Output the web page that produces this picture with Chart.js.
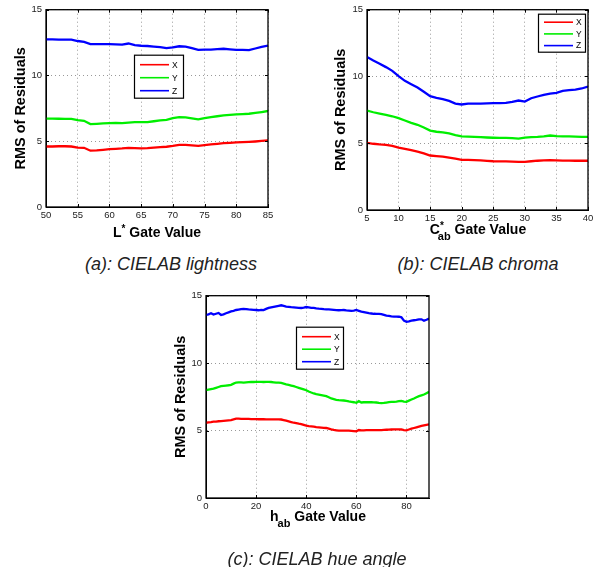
<!DOCTYPE html>
<html lang="en">
<head>
<meta charset="UTF-8">
<title>RMS of Residuals vs CIELAB gate value</title>
<script src="https://cdn.jsdelivr.net/npm/chart.js"></script>
<style>
    body {
        margin: 0;
        background: #fff;
        font-family: "Liberation Sans", Arial, Helvetica, sans-serif;
    }
    #page {
        position: relative;
        width: 598px;
        height: 567px;
        overflow: hidden;
    }
    canvas {
        position: absolute;
    }
    .xtitle {
        position: absolute;
        width: 200px;
        font-size: 14px;
        line-height: 16px;
        font-weight: bold;
        color: #000;
        text-align: center;
        white-space: nowrap;
    }
    .xtitle .up {
        position: relative;
        top: -5px;
        font-size: 10px;
    }
    .xtitle .down {
        position: relative;
        top: 6px;
        font-size: 11px;
    }
    .caption {
        position: absolute;
        width: 240px;
        font-size: 18px;
        line-height: 20px;
        font-style: italic;
        color: #222;
        text-align: center;
        white-space: nowrap;
    }
</style>
</head>
<body>
<div id="page">
    <canvas id="lightnessChart" width="290" height="230" style="left:0;top:0"></canvas>
    <canvas id="chromaChart" width="278" height="233" style="left:320px;top:0"></canvas>
    <canvas id="hueChart" width="290" height="235" style="left:160px;top:286px"></canvas>

    <div class="xtitle" style="left:57px;top:224px">L<span class="up">*</span> Gate Value</div>
    <div class="xtitle" style="left:378px;top:221px">C<span class="up">*</span><span class="down" style="margin-left:-6px">ab</span> Gate Value</div>
    <div class="xtitle" style="left:218px;top:508px">h<span class="down" style="margin-left:-1px">ab</span> Gate Value</div>

    <div class="caption" style="left:51px;top:254px">(a): CIELAB lightness</div>
    <div class="caption" style="left:358px;top:254px">(b): CIELAB chroma</div>
    <div class="caption" style="left:197px;top:549px">(c): CIELAB hue angle</div>
</div>
<script>
    // gate values (x) for each panel
    const lightnessGate = [50, 51, 52, 53, 54, 55, 56, 57, 58, 59, 60, 61, 62, 63, 64, 65, 66, 67,
        68, 69, 70, 71, 72, 73, 74, 75, 76, 77, 78, 79, 80, 81, 82, 83, 84, 85];
    const chromaGate = [5, 6, 7, 8, 9, 10, 11, 12, 13, 14, 15, 16, 17, 18, 19, 20, 21, 22,
        23, 24, 25, 26, 27, 28, 29, 30, 31, 32, 33, 34, 35, 36, 37, 38, 39, 40];
    const hueGate = [0, 1, 2, 3, 4, 5, 6, 7, 8, 9, 10, 11, 12, 13, 14, 15, 16, 17, 18, 19,
        20, 21, 22, 23, 24, 25, 26, 27, 28, 29, 30, 31, 32, 33, 34, 35, 36, 37, 38, 39,
        40, 41, 42, 43, 44, 45, 46, 47, 48, 49, 50, 51, 52, 53, 54, 55, 56, 57, 58, 59,
        60, 61, 62, 63, 64, 65, 66, 67, 68, 69, 70, 71, 72, 73, 74, 75, 76, 77, 78, 79,
        80, 81, 82, 83, 84, 85, 86, 87, 88, 89];

    // (a) lightness
    const lightnessX = [4.60, 4.60, 4.62, 4.62, 4.60, 4.52, 4.50, 4.28, 4.30, 4.35, 4.40, 4.42,
        4.45, 4.50, 4.48, 4.46, 4.48, 4.52, 4.55, 4.58, 4.64, 4.72, 4.72, 4.68, 4.64, 4.70,
        4.76, 4.80, 4.85, 4.88, 4.92, 4.93, 4.95, 4.98, 5.02, 5.06];
    const lightnessY = [6.72, 6.72, 6.71, 6.70, 6.70, 6.60, 6.55, 6.30, 6.32, 6.35, 6.38, 6.40,
        6.38, 6.42, 6.45, 6.46, 6.45, 6.52, 6.58, 6.62, 6.76, 6.84, 6.82, 6.74, 6.66, 6.75,
        6.84, 6.90, 6.96, 7.00, 7.04, 7.06, 7.09, 7.15, 7.22, 7.30];
    const lightnessZ = [12.75, 12.74, 12.72, 12.72, 12.72, 12.62, 12.55, 12.38, 12.38, 12.38,
        12.38, 12.37, 12.35, 12.43, 12.30, 12.26, 12.24, 12.20, 12.16, 12.08, 12.14, 12.22,
        12.20, 12.08, 11.94, 11.96, 11.97, 12.00, 12.03, 11.98, 11.94, 11.95, 11.92, 12.05,
        12.18, 12.27];

    // (b) chroma
    const chromaX = [5.03, 4.96, 4.91, 4.88, 4.80, 4.68, 4.58, 4.49, 4.37, 4.24, 4.08, 4.03,
        3.99, 3.92, 3.84, 3.76, 3.75, 3.74, 3.72, 3.68, 3.65, 3.64, 3.64, 3.63, 3.60, 3.60,
        3.65, 3.69, 3.71, 3.74, 3.72, 3.70, 3.70, 3.69, 3.69, 3.69];
    const chromaY = [7.45, 7.32, 7.22, 7.12, 7.02, 6.88, 6.70, 6.53, 6.38, 6.18, 5.95, 5.86,
        5.82, 5.73, 5.60, 5.52, 5.50, 5.48, 5.46, 5.43, 5.41, 5.40, 5.40, 5.38, 5.35, 5.42,
        5.46, 5.48, 5.52, 5.58, 5.53, 5.52, 5.52, 5.50, 5.48, 5.48];
    const chromaZ = [11.46, 11.20, 10.96, 10.70, 10.42, 10.02, 9.67, 9.42, 9.17, 8.85, 8.52,
        8.40, 8.30, 8.17, 7.97, 7.90, 7.97, 7.97, 7.97, 7.98, 8.00, 8.00, 8.02, 8.10, 8.20,
        8.12, 8.37, 8.50, 8.62, 8.72, 8.77, 8.92, 8.97, 9.02, 9.10, 9.25];

    // (c) hue angle
    const hueX = [5.58, 5.61, 5.63, 5.66, 5.67, 5.69, 5.70, 5.72, 5.74, 5.76, 5.78, 5.83, 5.88,
        5.88, 5.87, 5.87, 5.86, 5.86, 5.85, 5.85, 5.85, 5.84, 5.84, 5.84, 5.83, 5.83, 5.83,
        5.83, 5.83, 5.83, 5.82, 5.78, 5.73, 5.68, 5.63, 5.58, 5.55, 5.51, 5.48, 5.42, 5.36,
        5.33, 5.31, 5.29, 5.26, 5.24, 5.22, 5.20, 5.19, 5.14, 5.09, 5.05, 5.02, 4.99, 4.99,
        4.99, 4.99, 4.99, 4.98, 4.96, 4.94, 5.04, 5.02, 5.02, 5.03, 5.04, 5.04, 5.04, 5.04,
        5.04, 5.04, 5.05, 5.06, 5.07, 5.08, 5.09, 5.09, 5.09, 5.08, 5.04, 5.02, 5.08, 5.14,
        5.19, 5.24, 5.29, 5.34, 5.38, 5.42, 5.46];
    const hueY = [7.99, 8.03, 8.07, 8.11, 8.17, 8.23, 8.29, 8.32, 8.34, 8.36, 8.39, 8.48, 8.56,
        8.57, 8.57, 8.56, 8.58, 8.59, 8.60, 8.60, 8.61, 8.61, 8.61, 8.60, 8.61, 8.61, 8.60,
        8.58, 8.56, 8.55, 8.53, 8.48, 8.43, 8.39, 8.34, 8.29, 8.23, 8.17, 8.11, 8.05, 7.99,
        7.90, 7.82, 7.75, 7.70, 7.67, 7.63, 7.59, 7.55, 7.47, 7.38, 7.33, 7.28, 7.25, 7.24,
        7.23, 7.20, 7.16, 7.13, 7.10, 7.06, 7.18, 7.08, 7.10, 7.10, 7.11, 7.10, 7.09, 7.08,
        7.05, 7.03, 7.05, 7.08, 7.11, 7.12, 7.13, 7.15, 7.18, 7.20, 7.15, 7.13, 7.22, 7.30,
        7.38, 7.47, 7.55, 7.61, 7.67, 7.77, 7.87];
    const hueZ = [13.57, 13.62, 13.70, 13.60, 13.66, 13.72, 13.57, 13.62, 13.70, 13.76, 13.84,
        13.88, 13.94, 13.97, 14.00, 14.02, 14.00, 13.98, 13.97, 13.95, 13.94, 13.92, 13.95,
        13.93, 14.02, 14.09, 14.13, 14.17, 14.21, 14.25, 14.29, 14.24, 14.19, 14.17, 14.15,
        14.14, 14.12, 14.10, 14.09, 14.12, 14.16, 14.13, 14.10, 14.09, 14.06, 14.04, 14.03,
        14.00, 13.99, 13.98, 13.97, 13.95, 13.93, 13.92, 13.93, 13.94, 13.91, 13.89, 13.87,
        13.90, 13.94, 13.88, 13.82, 13.78, 13.74, 13.70, 13.68, 13.66, 13.65, 13.65, 13.64,
        13.58, 13.52, 13.50, 13.47, 13.45, 13.45, 13.44, 13.40, 13.15, 13.06, 13.10, 13.15,
        13.18, 13.20, 13.25, 13.25, 13.15, 13.22, 13.30];

    // tick labels
    const rmsTicks = [0, 5, 10, 15];
    const lightnessTicks = [50, 55, 60, 65, 70, 75, 80, 85];
    const chromaTicks = [5, 10, 15, 20, 25, 30, 35, 40];
    const hueTicks = [0, 20, 40, 60, 80];

    const seriesNames = ['X', 'Y', 'Z'];
    const seriesColors = ['#ff0000', '#00ee00', '#0000ff'];

    const FONT = '"Liberation Sans", Arial, Helvetica, sans-serif';

    // box around the axes, inward tick marks and a boxed legend, matlab style
    const boxedAxes = {
        id: 'boxedAxes',
        afterDraw(chart, args, opts) {
            const { ctx, chartArea: a, scales } = chart;
            ctx.save();
            ctx.strokeStyle = '#000';
            ctx.lineWidth = 1;
            ctx.beginPath();
            scales.x.ticks.forEach(t => {
                const px = Math.round(scales.x.getPixelForValue(t.value)) + 0.5;
                ctx.moveTo(px, a.bottom); ctx.lineTo(px, a.bottom - 3);
                ctx.moveTo(px, a.top); ctx.lineTo(px, a.top + 3);
            });
            scales.y.ticks.forEach(t => {
                const py = Math.round(scales.y.getPixelForValue(t.value)) + 0.5;
                ctx.moveTo(a.left, py); ctx.lineTo(a.left + 3, py);
                ctx.moveTo(a.right, py); ctx.lineTo(a.right - 3, py);
            });
            ctx.stroke();
            ctx.lineWidth = 1.3;
            ctx.strokeRect(a.left, a.top, a.width, a.height);

            // legend
            const lg = opts.legend;
            const w = lg.w, h = lg.h;
            const x0 = lg.right !== undefined ? a.right - lg.right - w : a.left + lg.left;
            const y0 = a.top + lg.top;
            ctx.fillStyle = '#fff';
            ctx.fillRect(x0, y0, w, h);
            ctx.lineWidth = 1.2;
            ctx.strokeRect(x0 + 0.5, y0 + 0.5, w, h);
            ctx.font = '8.5px ' + FONT;
            ctx.textBaseline = 'middle';
            chart.data.datasets.forEach((ds, i) => {
                const ry = y0 + lg.first + i * lg.gap;
                ctx.strokeStyle = ds.borderColor;
                ctx.lineWidth = 1.6;
                ctx.beginPath();
                ctx.moveTo(x0 + 6, ry);
                ctx.lineTo(x0 + 35, ry);
                ctx.stroke();
                ctx.fillStyle = '#000';
                ctx.fillText(ds.label, x0 + 38, ry + 0.5);
            });
            ctx.restore();
        }
    };

    function drawPanel(id, gates, xs, ys, zs, gateTicks, padding, yWidth, legend) {
        const ctx = document.getElementById(id).getContext('2d');
        return new Chart(ctx, {
            type: 'line',
            data: {
                datasets: [xs, ys, zs].map((vals, i) => ({
                    label: seriesNames[i],
                    data: gates.map((g, j) => ({ x: g, y: vals[j] })),
                    borderColor: seriesColors[i],
                    borderWidth: 2.3,
                    pointRadius: 0,
                    fill: false,
                    tension: 0
                }))
            },
            options: {
                responsive: false,
                animation: false,
                events: [],
                layout: { padding: padding },
                plugins: {
                    legend: { display: false },
                    tooltip: { enabled: false },
                    boxedAxes: { legend: legend }
                },
                scales: {
                    x: {
                        type: 'linear',
                        min: gates[0],
                        max: gates[gates.length - 1],
                        afterBuildTicks: s => { s.ticks = gateTicks.map(v => ({ value: v })); },
                        afterFit: s => { s.height = 23; },
                        grid: { color: 'rgba(0,0,0,0.4)', drawTicks: false },
                        border: { color: '#000', width: 1, dash: [1, 3] },
                        ticks: {
                            color: '#222',
                            font: { family: FONT, size: 9.5 },
                            padding: 3,
                            maxRotation: 0,
                            autoSkip: false
                        }
                    },
                    y: {
                        min: 0,
                        max: 15,
                        afterBuildTicks: s => { s.ticks = rmsTicks.map(v => ({ value: v })); },
                        afterFit: s => { s.width = yWidth; },
                        grid: { color: 'rgba(0,0,0,0.4)', drawTicks: false },
                        border: { color: '#000', width: 1, dash: [1, 3] },
                        ticks: {
                            color: '#222',
                            font: { family: FONT, size: 9.5 },
                            padding: 4
                        },
                        title: {
                            display: true,
                            text: 'RMS of Residuals',
                            color: '#000',
                            font: { family: FONT, size: 14.5, weight: 'bold' },
                            padding: { top: 12, bottom: 0 }
                        }
                    }
                }
            },
            plugins: [boxedAxes]
        });
    }

    drawPanel('lightnessChart', lightnessGate, lightnessX, lightnessY, lightnessZ, lightnessTicks,
        { top: 9, right: 22, left: 0, bottom: 0 }, 46,
        { left: 88, top: 45, w: 49, h: 43, first: 10, gap: 13 });
    drawPanel('chromaChart', chromaGate, chromaX, chromaY, chromaZ, chromaTicks,
        { top: 9, right: 10, left: 0, bottom: 0 }, 47,
        { right: 3, top: 4, w: 47, h: 38, first: 8.5, gap: 11.7 });
    drawPanel('hueChart', hueGate, hueX, hueY, hueZ, hueTicks,
        { top: 9, right: 21, left: 0, bottom: 0 }, 46,
        { left: 90, top: 31, w: 47, h: 42, first: 10, gap: 12.5 });
</script>
</body>
</html>
